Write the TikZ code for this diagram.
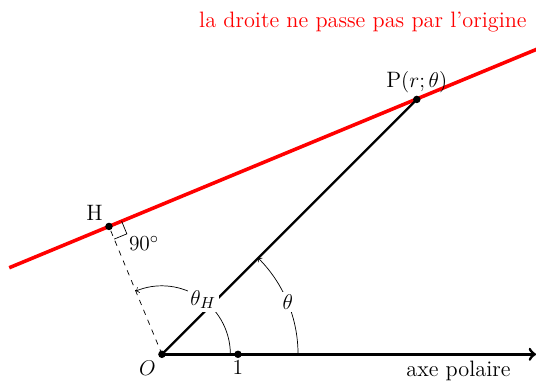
\documentclass[tikz,border=0pt]{standalone}
\usetikzlibrary{calc}
\begin{document}
\begin{tikzpicture}[scale=1.5, >=to, font=\fontsize{12.5}{15}\selectfont]
    \useasboundingbox (-2.13,-0.38) rectangle (4.92,4.66);

    \coordinate (O) at (0,0);
    \coordinate (U) at (1,0);
    \coordinate (H) at (112.5:1.82);
    \coordinate (P) at (45:4.74);
    \coordinate (Xend) at (4.92,0);
    \coordinate (A) at ($(H)+(202.5:1.42)$);
    \coordinate (B) at ($(H)+(22.5:6.1)$);

    \draw[red, line width=2pt] (A) -- (B);
    \node[red, anchor=east] (titre) at (4.88,4.37) {la droite ne passe pas par l'origine};

    \draw[dashed] (O) -- (H);
    \draw[very thick] (O) -- (P);
    \draw[->, line width=1.6pt] (O) -- (Xend);

    \draw ($(H)+(22.5:0.18)$) -- ($(H)+(22.5:0.18)+(-67.5:0.18)$) -- ($(H)+(-67.5:0.18)$);
    \node[below right, inner sep=1pt] (angdroit) at ($(H)+(22.5:0.18)+(-67.5:0.18)$) {$90^\circ$};

    \draw[->] (1.79,0) arc (0:45:1.79) node[pos=0.5, fill=white, inner sep=1.5pt] (lt) {$\theta$};
    \draw[->] (0.9,0) arc (0:112.5:0.9) node[pos=0.47, fill=white, inner sep=1.5pt] (lth) {$\theta_H$};

    \fill (O) circle (1.4pt) node[below left] (lO) {$O$};
    \fill (U) circle (1.4pt) node[below] (l1) {$1$};
    \fill (H) circle (1.4pt) node[above left] (lH) {H};
    \fill (P) circle (1.4pt) node[above] (lP) {P$(r;\theta)$};
    \node[below] (axe) at (3.9,0) {axe polaire};
  \end{tikzpicture}
\end{document}
